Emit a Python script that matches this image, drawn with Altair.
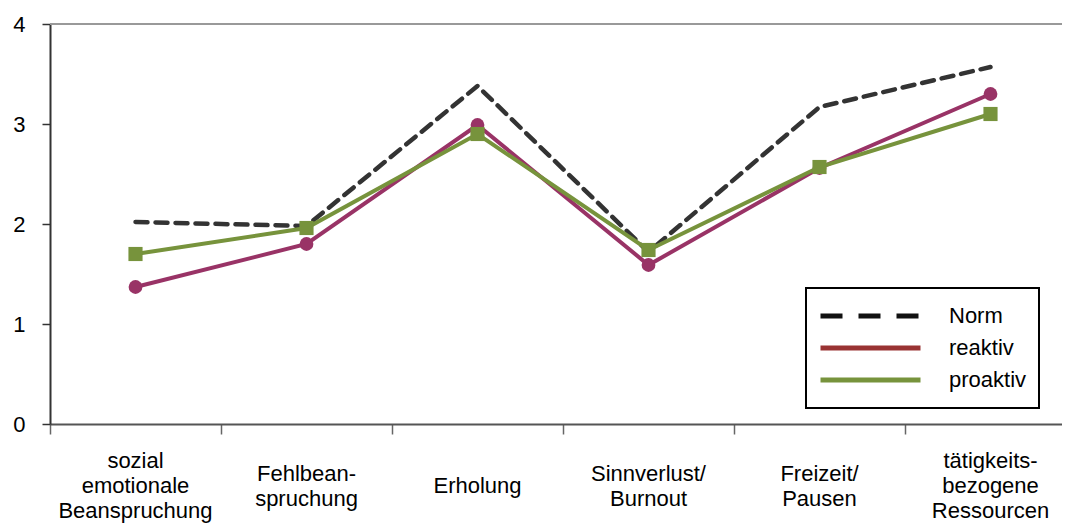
import altair as alt
import pandas as pd

FONT = "Liberation Sans"

categories = [
    "sozial\nemotionale\nBeanspruchung",
    "Fehlbean-\nspruchung",
    "Erholung",
    "Sinnverlust/\nBurnout",
    "Freizeit/\nPausen",
    "tätigkeits-\nbezogene\nRessourcen",
]
series_names = ["Norm", "reaktiv", "proaktiv"]
norm = [2.02, 1.98, 3.38, 1.72, 3.17, 3.57]
reaktiv = [1.37, 1.80, 2.99, 1.59, 2.56, 3.30]
proaktiv = [1.70, 1.96, 2.90, 1.74, 2.57, 3.10]
y_ticks = [0, 1, 2, 3, 4]

line_colors = ["#333333", "#993366", "#77933C"]
legend_colors = ["#111111", "#993333", "#77933C"]

rows = []
for name, vals in zip(series_names, [norm, reaktiv, proaktiv]):
    for c, v in zip(categories, vals):
        rows.append({"Kategorie": c, "Gruppe": name, "Wert": v})
df = pd.DataFrame(rows)

# one row per printed line of each category label
label_rows = []
for c in categories:
    parts = c.split("\n")
    for i, p in enumerate(parts):
        label_rows.append({"Kategorie": c, "Zeile": p, "i": i, "n": len(parts)})
labels_df = pd.DataFrame(label_rows)

x_enc = alt.X(
    "Kategorie:N",
    sort=categories,
    scale=alt.Scale(range=[0, 1026], paddingInner=0, paddingOuter=0),
    axis=alt.Axis(
        title=None, tickBand="extent", labels=False,
        tickSize=10, tickColor="#666666", tickWidth=1.5,
        domainColor="#555555", domainWidth=2, grid=False,
    ),
)
y_enc = alt.Y(
    "Wert:Q",
    scale=alt.Scale(domain=[0, 4], nice=False, zero=True),
    axis=alt.Axis(
        title=None, values=y_ticks, format="d",
        labelFont=FONT, labelFontSize=22, labelColor="black", labelPadding=17,
        tickSize=8, tickColor="#333333", tickWidth=1.5,
        domainColor="#333333", domainWidth=2, grid=False,
    ),
)

base = alt.Chart(df)

top_rule = alt.Chart(df).mark_rule(color="#999999", strokeWidth=2).encode(y=alt.datum(4))

norm_line = base.transform_filter(alt.datum.Gruppe == "Norm").mark_line(
    color=line_colors[0], strokeWidth=4.5, strokeDash=[12, 8], strokeCap="round"
).encode(x=x_enc, y=y_enc)

reak_line = base.transform_filter(alt.datum.Gruppe == "reaktiv").mark_line(
    color=line_colors[1], strokeWidth=4
).encode(x=x_enc, y=y_enc)
reak_pts = base.transform_filter(alt.datum.Gruppe == "reaktiv").mark_circle(
    color=line_colors[1], size=190, opacity=1
).encode(x=x_enc, y=y_enc)

pro_line = base.transform_filter(alt.datum.Gruppe == "proaktiv").mark_line(
    color=line_colors[2], strokeWidth=4
).encode(x=x_enc, y=y_enc)
pro_pts = base.transform_filter(alt.datum.Gruppe == "proaktiv").mark_square(
    color=line_colors[2], size=200, opacity=1
).encode(x=x_enc, y=y_enc)

# category labels below the axis, each block centred vertically
cat_labels = alt.Chart(labels_df).transform_calculate(
    off="(datum.i - (datum.n - 1) / 2) * 25"
).mark_text(
    font=FONT, fontSize=22, color="black", baseline="middle", align="center"
).encode(
    x=alt.X("Kategorie:N", sort=categories),
    y=alt.value(462),
    yOffset=alt.YOffset("off:Q", scale=None),
    text="Zeile:N",
)

leg = alt.Legend(
    title=None, orient="none", legendX=756, legendY=264,
    symbolType="stroke", symbolSize=10000, symbolStrokeWidth=5,
    clipHeight=32, rowPadding=0,
    labelFont=FONT, labelFontSize=22, labelColor="black", labelOffset=26,
    padding=12, strokeColor="black",
)
legend_layer = base.transform_filter("false").mark_line().encode(
    x=x_enc, y=y_enc,
    color=alt.Color("Gruppe:N", scale=alt.Scale(domain=series_names, range=legend_colors), legend=leg),
    strokeDash=alt.StrokeDash("Gruppe:N", scale=alt.Scale(domain=series_names, range=[[22, 16], [1, 0], [1, 0]]), legend=leg),
)

chart = alt.layer(
    top_rule, norm_line, reak_line, reak_pts, pro_line, pro_pts, cat_labels, legend_layer
).properties(
    width=1012, height=400,
    autosize=alt.AutoSizeParams(type="none"),
    padding={"left": 42, "top": 16, "right": 0, "bottom": 103},
).configure_view(stroke=None).configure_legend(strokeWidth=2)

chart.save("out.html", embed_options={"renderer": "svg", "actions": False})
